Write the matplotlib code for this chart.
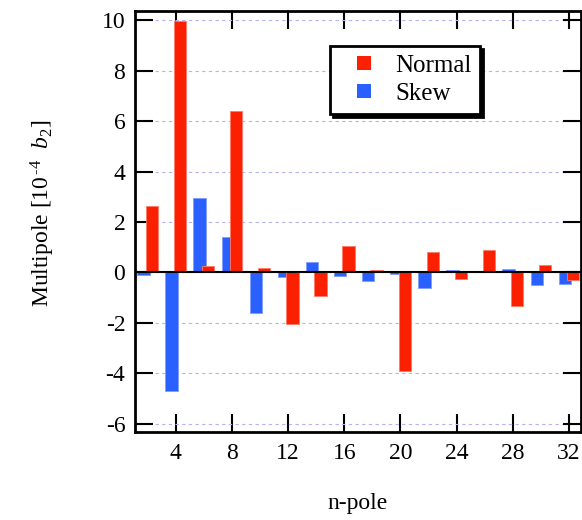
import matplotlib
matplotlib.use("Agg")
import matplotlib.pyplot as plt
from matplotlib.lines import Line2D

plt.rcParams['font.family'] = ['Liberation Serif', 'DejaVu Serif']
plt.rcParams['mathtext.fontset'] = 'custom'
plt.rcParams['mathtext.rm'] = 'Liberation Serif'
plt.rcParams['mathtext.it'] = 'Liberation Serif:italic'
plt.rcParams['mathtext.bf'] = 'Liberation Serif:bold'
plt.rcParams['axes.unicode_minus'] = False

# data
npole = [2, 4, 6, 8, 10, 12, 14, 16, 18, 20, 22, 24, 26, 28, 30, 32]
normal = [2.63, 9.97, 0.25, 6.39, 0.19, -2.04, -0.93, 1.05,
          0.10, -3.92, 0.81, -0.24, 0.89, -1.33, 0.28, -0.28]
skew = [-0.08, -4.70, 2.96, 1.39, -1.62, -0.18, 0.40, -0.14,
        -0.34, -0.05, -0.61, 0.10, 0.07, 0.15, -0.51, -0.46]
xticks = [4, 8, 12, 16, 20, 24, 28, 32]
yticks = [-6, -4, -2, 0, 2, 4, 6, 8, 10]

RED = '#fa2000'
BLUE = '#2a60ff'

fig = plt.figure(figsize=(5.82, 5.2), dpi=100)
ax = fig.add_axes([135/582, 1-432/520, 446/582, 421/520])

w = 0.88
off = 0.3
ax.bar([v - off for v in npole], skew, width=w, color=BLUE,
       edgecolor='#7f9cff', linewidth=0.6, zorder=2)
ax.bar([v + off for v in npole], normal, width=w, color=RED,
       edgecolor='#ff7a66', linewidth=0.6, zorder=2.1)

ax.axhline(0, color='black', linewidth=1.5, zorder=3)

ax.set_xlim(1.1, 32.85)
ax.set_ylim(-6.32, 10.36)
ax.set_xticks(xticks)
ax.set_yticks(yticks)

ax.yaxis.grid(True, color='#b4b4f0', linestyle=(0, (3, 3)), linewidth=0.8)
ax.set_axisbelow(True)

for s in ax.spines.values():
    s.set_linewidth(2)

ax.tick_params(direction='in', length=13, width=1.5, top=True, right=True,
               labelsize=17)
ax.tick_params(axis='x', pad=8)
ax.tick_params(axis='y', pad=7)

ax.set_xlabel('n-pole', fontsize=17)
ax.set_ylabel('Multipole [10$^{\\,\\text{-}4}$  $b_2$]', fontsize=17)
ax.xaxis.set_label_coords(0.5, -0.145)
ax.yaxis.set_label_coords(-0.175, 0.52)

handles = [Line2D([], [], marker='s', linestyle='none', color=RED,
                  markersize=10.5, markeredgewidth=0),
           Line2D([], [], marker='s', linestyle='none', color=BLUE,
                  markersize=10.5, markeredgewidth=0)]
leg = ax.legend(handles, ['Normal', 'Skew'], loc='upper left',
                bbox_to_anchor=(0.437, 0.917), borderaxespad=0,
                fontsize=18, handlelength=2.0, handletextpad=0.26,
                borderpad=0.35, labelspacing=0.22, fancybox=False,
                shadow={'color': 'black', 'alpha': 1}, framealpha=1)
leg.get_frame().set_edgecolor('black')
leg.get_frame().set_linewidth(2)

fig.savefig('out.png', dpi=100)
